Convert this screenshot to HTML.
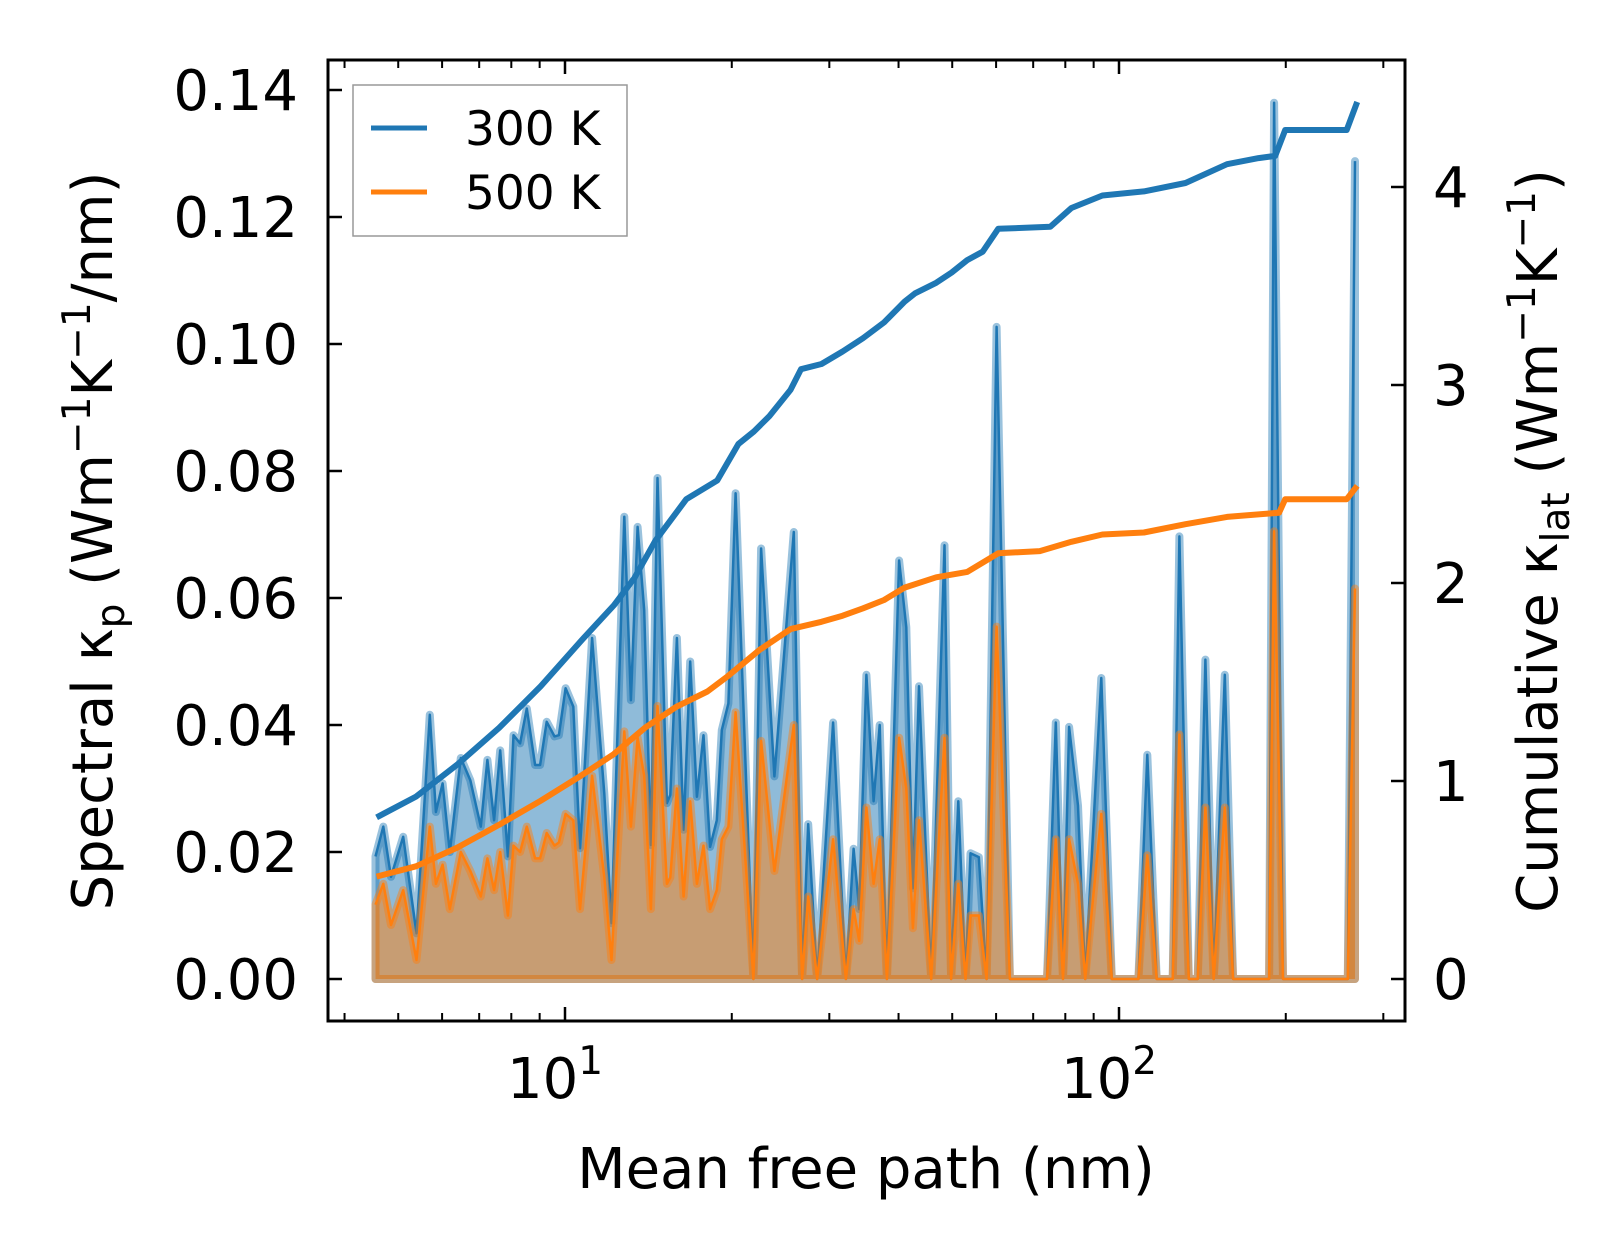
<!DOCTYPE html>
<html><head><meta charset="utf-8">
<style>
html,body{margin:0;padding:0;background:#fff;}
svg{display:block;font-family:"DejaVu Sans","Liberation Sans",sans-serif;}
</style></head>
<body>
<svg id="chart" width="1623" height="1254" viewBox="0 0 1623 1254" xmlns="http://www.w3.org/2000/svg">
<rect width="1623" height="1254" fill="#fff"/>
<g id="plot"></g>
<g id="axes"></g>
<text x="866" y="1188" font-size="56" text-anchor="middle">Mean free path (nm)</text>
<text transform="translate(112,541) rotate(-90)" font-size="56" text-anchor="middle">Spectral κ<tspan font-size="39" dy="12">p</tspan><tspan dy="-12"> (Wm</tspan><tspan font-size="39" dy="-22">−1</tspan><tspan dy="22">K</tspan><tspan font-size="39" dy="-22">−1</tspan><tspan dy="22">/nm)</tspan></text>
<text transform="translate(1557,541) rotate(-90)" font-size="56" text-anchor="middle">Cumulative κ<tspan font-size="39" dy="12">lat</tspan><tspan dy="-12"> (Wm</tspan><tspan font-size="39" dy="-22">−1</tspan><tspan dy="22">K</tspan><tspan font-size="39" dy="-22">−1</tspan><tspan dy="22">)</tspan></text>
<g>
<rect x="353" y="85" width="274" height="151" fill="#fff" stroke="#999" stroke-width="1.5"/>
<line x1="371" y1="128" x2="427" y2="128" stroke="#1f77b4" stroke-width="5"/>
<text x="465" y="145" font-size="47">300 K</text>
<line x1="371" y1="192" x2="427" y2="192" stroke="#ff7f0e" stroke-width="5"/>
<text x="465" y="209" font-size="47">500 K</text>
</g>
</svg>
<script>
// spectral data: log10 of mean free path (nm)
const mfpLog10 = [0.658,0.672,0.686,0.708,0.732,0.756,0.767,0.779,0.792,0.812,0.829,0.848,0.860,0.872,0.883,0.897,0.907,0.919,0.931,0.946,0.955,0.967,0.981,0.989,1.001,1.015,1.027,1.049,1.071,1.084,1.107,1.119,1.131,1.143,1.155,1.167,1.184,1.190,1.202,1.214,1.226,1.238,1.250,1.262,1.274,1.283,1.295,1.308,1.340,
1.354,1.378,1.413,1.428,1.439,1.455,1.484,1.507,1.521,1.531,1.544,1.557,1.568,1.581,1.603,1.616,1.628,1.639,1.661,1.685,1.697,1.710,1.723,1.732,1.747,1.761,1.779,1.803,1.870,1.886,1.899,1.910,1.926,1.939,1.968,1.987,2.035,2.051,2.068,2.097,2.109,2.126,2.142,2.156,2.171,2.191,2.206,2.271,2.280,2.296,2.413,2.426];
const spec300 = [0.0193,0.024,0.0161,0.0224,0.0072,0.0416,0.0263,0.0308,0.020,0.0348,0.0313,0.024,0.0345,0.025,0.036,0.0193,0.0384,0.0371,0.0426,0.0337,0.0337,0.0405,0.0382,0.0384,0.0458,0.0429,0.0206,0.0537,0.0292,0.0088,0.0728,0.0439,0.0712,0.0581,0.0211,0.0789,0.0277,0.029,0.0537,0.0235,0.050,0.0287,0.0384,0.0208,0.025,0.0392,0.0434,0.0765,0,
0.0678,0.0319,0.0704,0,0.0244,0,0.0404,0,0.0205,0.011,0.0479,0.028,0.040,0,0.0659,0.0554,0.0143,0.0461,0,0.0683,0,0.028,0,0.0198,0.0192,0,0.1027,0,0,0.0404,0,0.0397,0.0273,0,0.0474,0,0,0.0353,0,0,0.0697,0,0,0.0503,0,0.0479,0,0,0.138,0,0,0.1288];
const spec500 = [0.0117,0.015,0.0085,0.014,0.003,0.024,0.015,0.018,0.011,0.020,0.017,0.013,0.019,0.014,0.020,0.010,0.021,0.020,0.024,0.019,0.019,0.023,0.021,0.0215,0.026,0.025,0.011,0.032,0.016,0.003,0.039,0.024,0.038,0.032,0.011,0.043,0.015,0.016,0.030,0.013,0.028,0.015,0.021,0.011,0.014,0.022,0.024,0.042,0,
0.0375,0.017,0.040,0,0.013,0,0.022,0,0.011,0.006,0.027,0.015,0.022,0,0.038,0.030,0.008,0.025,0,0.038,0,0.015,0,0.010,0.010,0,0.0555,0,0,0.022,0,0.022,0.015,0,0.026,0,0,0.0195,0,0,0.0385,0,0,0.027,0,0.027,0,0,0.0705,0,0,0.0615];
// cumulative data
const cumLog10 = [0.660,0.731,0.806,0.881,0.956,1.031,1.088,1.125,1.163,1.219,1.275,1.313,1.341,1.369,1.407,1.426,1.463,1.501,1.538,1.576,1.613,1.632,1.670,1.698,1.726,1.754,1.782,1.876,1.914,1.970,2.045,2.120,2.195,2.252,2.282,2.300,2.411,2.430];
const cum300 = [0.816,0.921,1.084,1.268,1.478,1.714,1.887,2.024,2.213,2.423,2.518,2.702,2.765,2.843,2.975,3.080,3.106,3.169,3.237,3.316,3.421,3.463,3.516,3.568,3.631,3.673,3.789,3.799,3.894,3.957,3.978,4.020,4.115,4.146,4.157,4.288,4.288,4.430];
const cumLog10b = [0.660,0.731,0.806,0.881,0.956,1.031,1.088,1.144,1.200,1.257,1.294,1.351,1.407,1.463,1.501,1.538,1.576,1.613,1.670,1.726,1.782,1.857,1.914,1.970,2.045,2.120,2.195,2.289,2.300,2.411,2.430];
const cum500 = [0.517,0.569,0.664,0.779,0.900,1.031,1.136,1.268,1.373,1.452,1.530,1.662,1.767,1.804,1.835,1.872,1.914,1.977,2.029,2.056,2.150,2.161,2.208,2.245,2.255,2.297,2.334,2.355,2.423,2.423,2.491];
const leftTicks = [0,0.02,0.04,0.06,0.08,0.10,0.12,0.14];
const leftTickLabels = ["0.00","0.02","0.04","0.06","0.08","0.10","0.12","0.14"];
const rightTicks = [0,1,2,3,4];
const xMajor = [1,2];

const NS="http://www.w3.org/2000/svg";
const L=328,R=1405,T=60,B=1021;
const X = lg => 565 + (lg-1)*554;
const YL = v => 979 - v*6350;
const YR = v => 979 - v*198;
function mk(tag,attrs,parent){const e=document.createElementNS(NS,tag);for(const k in attrs)e.setAttribute(k,attrs[k]);parent.appendChild(e);return e;}
const plot=document.getElementById('plot'), axes=document.getElementById('axes');

function areaPath(xs,ys){
  let d='M'+X(xs[0])+','+YL(0);
  for(let i=0;i<xs.length;i++) d+=' L'+X(xs[i]).toFixed(1)+','+YL(ys[i]).toFixed(1);
  d+=' L'+X(xs[xs.length-1])+','+YL(0)+' Z';return d;
}
function linePath(xs,ys,yf){
  let d='';
  for(let i=0;i<xs.length;i++) d+=(i?' L':'M')+X(xs[i]).toFixed(1)+','+yf(ys[i]).toFixed(1);
  return d;
}
const series=[[spec300,'#1f77b4','300k'],[spec500,'#ff7f0e','500k']];
series.forEach(([vals,col,nm])=>{
  const a=mk('path',{d:areaPath(mfpLog10,vals),fill:col,'fill-opacity':0.5,stroke:col,'stroke-opacity':0.45,'stroke-width':8,'stroke-linejoin':'round'},plot);
  
  
  const l=mk('path',{d:linePath(mfpLog10,vals,YL),fill:'none',stroke:col,'stroke-width':2.5,'stroke-linejoin':'round'},plot);
  
  
});
const c1=mk('path',{d:linePath(cumLog10,cum300,YR),fill:'none',stroke:'#1f77b4','stroke-width':6,'stroke-linejoin':'round'},plot);


const c2=mk('path',{d:linePath(cumLog10b,cum500,YR),fill:'none',stroke:'#ff7f0e','stroke-width':6,'stroke-linejoin':'round'},plot);



// spines
const sp=mk('rect',{x:L,y:T,width:R-L,height:B-T,fill:'none',stroke:'#000','stroke-width':3},axes);


leftTicks.forEach((v,i)=>{
  const y=YL(v);
  const t=mk('line',{x1:L,y1:y,x2:L+14,y2:y,stroke:'#000','stroke-width':2.5},axes);
  
  
  const tx=mk('text',{x:298,y:y+20,'font-size':56,'text-anchor':'end'},axes);
  tx.textContent=leftTickLabels[i];
  
  
});
rightTicks.forEach(v=>{
  const y=YR(v);
  const t=mk('line',{x1:R,y1:y,x2:R-14,y2:y,stroke:'#000','stroke-width':2.5},axes);
  
  
  const tx=mk('text',{x:1433,y:y+20,'font-size':56},axes);
  tx.textContent=String(v);
  
  
});
for(let dec=0;dec<=2;dec++){
  for(let m=1;m<10;m++){
    const lg=dec+Math.log10(m);
    const x=X(lg);
    if(x<L+2||x>R-2)continue;
    const len=m===1?14:8;
    [[B,B-len],[T,T+len]].forEach(([y1,y2])=>{
      const t=mk('line',{x1:x,y1:y1,x2:x,y2:y2,stroke:'#000','stroke-width':m===1?2.5:2},axes);
      
      
    });
  }
}
xMajor.forEach(p=>{
  const tx=mk('text',{x:X(p)-10,y:1098,'font-size':56,'text-anchor':'middle'},axes);
  tx.textContent='10';
  const s=mk('tspan',{'font-size':39,dy:-24},tx);
  s.textContent=String(p);
  
  
});
</script>
</body></html>
